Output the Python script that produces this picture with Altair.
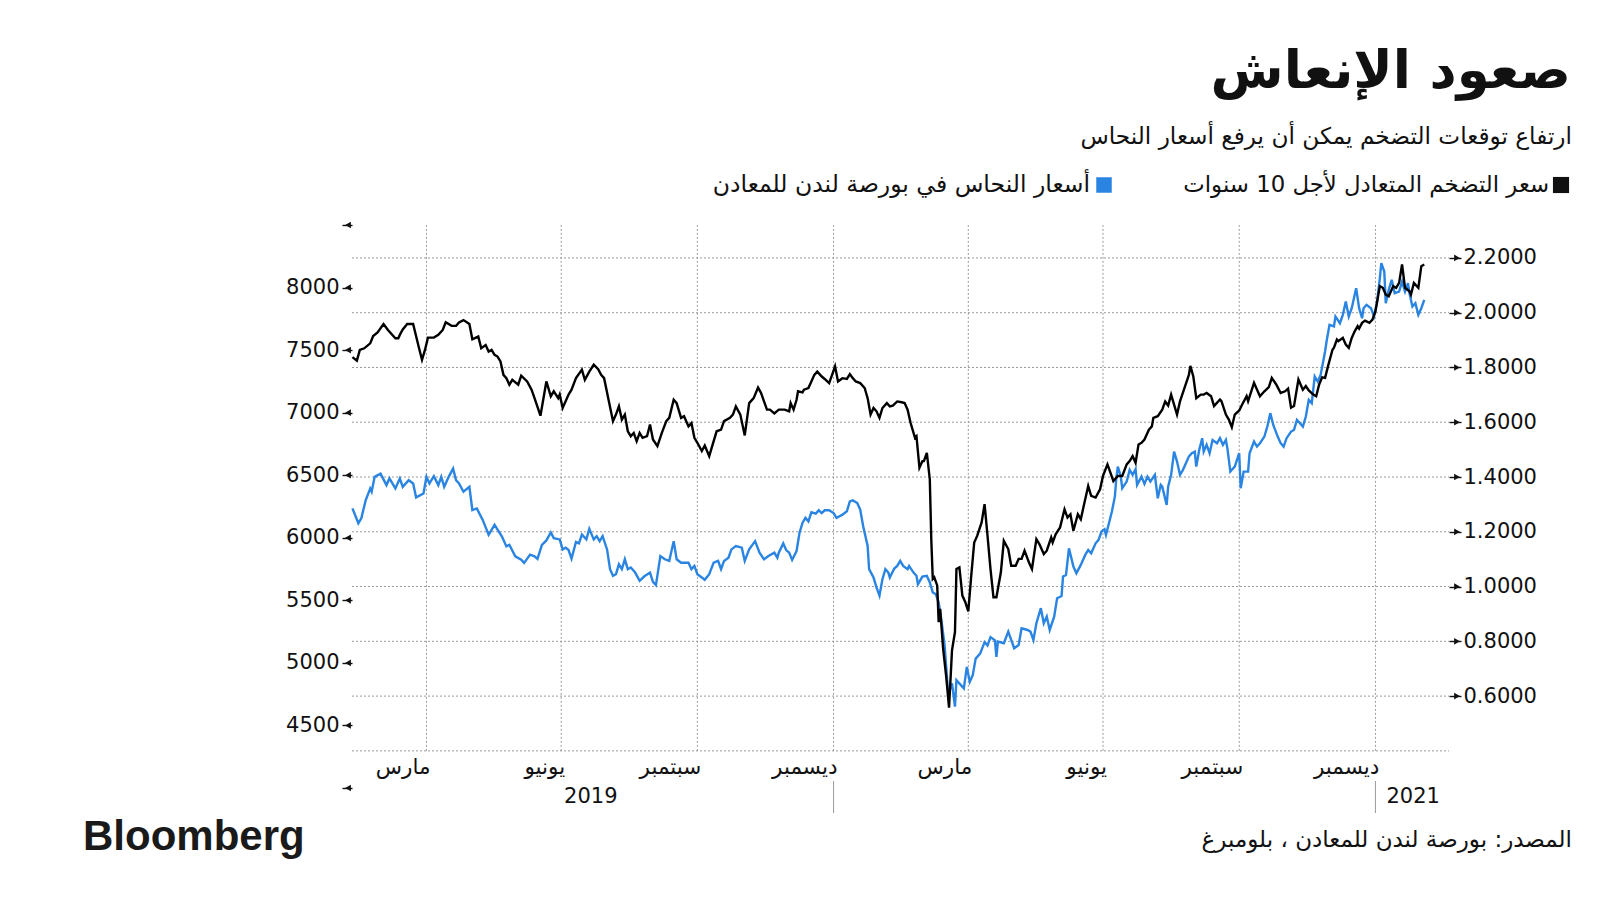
import altair as alt
import pandas as pd

# ---------------- data (days counted from 2019-04-01) ----------------
BASE = "2019-04-01"

breakeven_pts = [
    (-50, 1.838), (-47, 1.825), (-45, 1.864), (-42, 1.870), (-38, 1.888), (-36, 1.915), (-33, 1.928),
    (-29, 1.959), (-26, 1.937), (-21, 1.907), (-19, 1.907), (-18, 1.919), (-16, 1.939), (-13, 1.959),
    (-9, 1.959), (-8, 1.937), (-5, 1.870), (-3, 1.828), (-1, 1.864), (1, 1.909), (5, 1.909), (8, 1.919),
    (11, 1.937), (13, 1.965), (17, 1.952), (20, 1.952), (22, 1.964), (25, 1.973), (29, 1.959), (31, 1.903),
    (35, 1.913), (37, 1.870), (40, 1.882), (42, 1.858), (44, 1.864), (46, 1.846), (48, 1.840), (50, 1.822),
    (52, 1.773), (54, 1.761), (56, 1.737), (58, 1.755), (62, 1.737), (64, 1.770), (68, 1.749), (71, 1.719),
    (73, 1.688), (77, 1.624), (81, 1.749), (84, 1.695), (86, 1.713), (89, 1.688),
    (90, 1.701), (92, 1.652), (96, 1.701), (98, 1.719), (101, 1.761), (105, 1.792), (107, 1.755),
    (110, 1.785), (113, 1.810), (116, 1.794), (118, 1.773), (120, 1.761), (123, 1.682), (126, 1.604),
    (128, 1.628), (130, 1.658), (132, 1.610), (134, 1.628), (136, 1.567), (138, 1.549), (140, 1.561),
    (142, 1.531), (144, 1.561), (146, 1.543), (149, 1.549), (151, 1.592), (153, 1.537), (156, 1.513),
    (159, 1.561), (162, 1.604), (164, 1.616), (167, 1.682), (169, 1.670), (172, 1.616), (174, 1.622),
    (177, 1.585), (179, 1.597), (181, 1.543), (183, 1.525), (186, 1.495), (188, 1.515), (191, 1.476),
    (193, 1.513), (196, 1.567), (199, 1.573), (201, 1.604), (205, 1.616), (207, 1.628), (209, 1.658),
    (212, 1.628), (215, 1.552), (218, 1.670), (221, 1.688), (224, 1.727), (226, 1.707), (230, 1.646),
    (232, 1.646),
    (235, 1.632), (238, 1.646), (242, 1.646), (245, 1.640), (246, 1.670), (248, 1.646), (250, 1.682),
    (251, 1.713), (254, 1.709), (255, 1.719), (258, 1.725), (260, 1.749), (262, 1.773), (264, 1.785),
    (267, 1.767), (269, 1.758), (272, 1.743), (274, 1.773), (276, 1.804), (278, 1.749), (281, 1.761),
    (284, 1.758), (286, 1.776), (288, 1.761), (290, 1.749), (293, 1.743), (296, 1.725), (298, 1.688),
    (300, 1.628), (302, 1.652), (304, 1.640), (306, 1.616), (308, 1.652), (311, 1.670), (313, 1.658),
    (315, 1.661), (318, 1.676), (321, 1.673), (323, 1.670), (325, 1.646), (327, 1.598), (330, 1.543),
    (331, 1.549), (333, 1.434), (335, 1.458), (336, 1.458), (338, 1.488), (340, 1.392), (341, 1.173),
    (342, 1.028), (343, 1.034), (345, 1.004), (346, 0.870), (347, 0.919), (349, 0.773), (351, 0.676),
    (353, 0.558), (355, 0.767), (357, 0.834), (358, 1.064), (360, 1.070), (362, 0.967), (364, 0.943),
    (366, 0.909), (368, 1.040), (370, 1.161), (372, 1.185), (375, 1.234), (377, 1.301), (379, 1.185),
    (381, 1.064), (383, 0.961), (385, 0.961),
    (388, 1.052), (390, 1.167), (393, 1.137), (395, 1.076), (398, 1.076), (400, 1.101), (402, 1.101),
    (404, 1.131), (407, 1.088), (409, 1.064), (412, 1.173), (414, 1.155), (417, 1.119), (419, 1.131),
    (422, 1.179), (423, 1.161), (425, 1.191), (428, 1.216), (431, 1.282), (433, 1.252), (435, 1.264),
    (437, 1.204), (440, 1.264), (442, 1.246), (444, 1.295), (447, 1.367), (449, 1.331), (452, 1.325),
    (455, 1.355), (457, 1.404), (460, 1.446), (462, 1.416), (464, 1.385), (467, 1.404), (470, 1.404),
    (473, 1.446), (475, 1.458), (477, 1.476), (479, 1.452), (481, 1.519), (483, 1.525), (485, 1.537),
    (488, 1.573), (490, 1.585), (491, 1.616), (494, 1.622), (497, 1.646), (499, 1.676), (501, 1.661),
    (503, 1.701), (507, 1.628), (509, 1.676), (512, 1.725), (515, 1.773), (516, 1.806), (518, 1.767),
    (520, 1.688), (523, 1.701), (525, 1.701),
    (527, 1.707), (530, 1.695), (532, 1.659), (536, 1.683), (537, 1.677), (540, 1.628), (542, 1.610),
    (544, 1.582), (546, 1.628), (549, 1.643), (551, 1.665), (554, 1.695), (555, 1.677), (559, 1.744),
    (563, 1.695), (566, 1.713), (569, 1.728), (571, 1.762), (574, 1.738), (577, 1.707), (580, 1.713),
    (582, 1.723), (584, 1.653), (586, 1.659), (589, 1.756), (592, 1.719), (594, 1.732), (596, 1.716),
    (599, 1.701), (601, 1.695), (603, 1.738), (605, 1.764), (607, 1.762), (609, 1.805), (612, 1.865),
    (613, 1.872), (615, 1.902), (616, 1.896), (619, 1.908), (621, 1.884), (623, 1.872), (625, 1.908),
    (627, 1.932), (629, 1.951), (630, 1.942), (632, 1.963), (634, 1.971), (637, 1.963), (639, 1.975),
    (641, 2.005), (643, 2.066), (644, 2.097), (646, 2.091), (648, 2.066), (650, 2.060), (653, 2.097),
    (655, 2.091), (657, 2.109), (659, 2.176), (661, 2.091), (664, 2.078), (665, 2.066), (667, 2.109),
    (670, 2.091), (672, 2.170), (674, 2.176),
]

copper_pts = [
    (-50, 6235), (-46, 6116), (-44, 6156), (-41, 6302), (-38, 6394), (-37, 6368), (-35, 6487), (-31, 6513),
    (-27, 6421), (-25, 6474), (-21, 6394), (-18, 6474), (-16, 6407), (-12, 6460), (-9, 6434), (-7, 6323),
    (-2, 6354), (0, 6487), (2, 6434), (5, 6492), (8, 6421), (10, 6487), (12, 6407), (15, 6487), (18, 6553),
    (20, 6460), (22, 6434), (25, 6368), (29, 6407), (31, 6222), (34, 6235), (38, 6143), (42, 6024),
    (46, 6103), (51, 6010), (54, 5931), (56, 5944), (60, 5852), (64, 5825), (66, 5799), (70, 5865),
    (73, 5852), (75, 5831), (78, 5944), (81, 5979), (84, 6042), (86, 5997), (89, 5989),
    (90, 5987), (92, 5907), (94, 5921), (96, 5902), (98, 5833), (101, 5966), (103, 5955), (105, 6026),
    (108, 5987), (110, 6071), (113, 5987), (115, 6013), (117, 5973), (119, 6013), (122, 5907), (124, 5749),
    (126, 5696), (128, 5709), (130, 5788), (132, 5749), (134, 5828), (136, 5749), (138, 5762), (141, 5722),
    (144, 5656), (147, 5690), (151, 5722), (153, 5648), (155, 5622), (158, 5854), (161, 5828), (164, 5815),
    (167, 5973), (169, 5828), (172, 5801), (177, 5801), (179, 5749), (181, 5775), (183, 5709), (186, 5682),
    (188, 5664), (191, 5709), (194, 5801), (197, 5815), (199, 5749), (201, 5815), (204, 5841), (206, 5907),
    (209, 5934), (213, 5921), (215, 5815), (218, 5907), (222, 5973), (225, 5881), (228, 5828), (231, 5854),
    (235, 5881), (237, 5841), (238, 5881), (241, 5955), (243, 5902), (245, 5881), (247, 5823), (250, 5894),
    (252, 6040), (254, 6119), (256, 6159), (258, 6132), (260, 6204), (263, 6193), (265, 6220), (267, 6198),
    (269, 6220), (272, 6220), (275, 6198), (277, 6159), (279, 6172), (281, 6185), (284, 6212), (286, 6291),
    (288, 6299), (291, 6278), (293, 6225), (295, 6093), (298, 5934), (299, 5749), (302, 5682), (304, 5603),
    (306, 5537), (308, 5669), (310, 5749), (312, 5722), (313, 5682), (316, 5754), (318, 5775), (320, 5815),
    (322, 5775), (325, 5749), (326, 5775), (329, 5722), (331, 5696), (332, 5629), (335, 5690), (338, 5696),
    (340, 5643), (342, 5563), (344, 5550), (346, 5484), (348, 5325), (350, 5140), (352, 4822), (353, 4769),
    (355, 4836), (357, 4650), (358, 4862), (361, 4822), (363, 4796), (365, 4968), (367, 4849), (369, 4902),
    (371, 5034), (374, 5074), (377, 5166), (379, 5140), (381, 5206), (384, 5180), (385, 5047),
    (386, 5170), (390, 5157), (393, 5250), (397, 5117), (400, 5143), (402, 5277), (406, 5263), (408, 5250),
    (410, 5183), (412, 5317), (415, 5437), (417, 5317), (419, 5370), (421, 5263), (424, 5370), (426, 5517),
    (429, 5535), (430, 5690), (432, 5703), (434, 5916), (437, 5770), (439, 5716), (442, 5783), (445, 5863),
    (447, 5903), (449, 5876), (452, 5956), (454, 5983), (456, 6050), (458, 6068), (459, 6023), (461, 6116),
    (463, 6210), (465, 6329), (466, 6476), (467, 6569), (469, 6489), (470, 6396), (473, 6449), (475, 6543),
    (477, 6503), (479, 6548), (480, 6423), (483, 6489), (485, 6431), (487, 6489), (489, 6449), (492, 6503),
    (494, 6316), (496, 6423), (497, 6409), (500, 6263), (501, 6409), (503, 6503), (505, 6689), (507, 6609),
    (509, 6503), (511, 6543), (515, 6649), (517, 6676), (519, 6689), (520, 6569), (522, 6703), (524, 6796),
    (525, 6689),
    (527, 6743), (529, 6676), (531, 6782), (534, 6756), (536, 6796), (538, 6743), (540, 6782), (541, 6716),
    (543, 6529), (546, 6569), (549, 6676), (550, 6396), (552, 6529), (555, 6529), (556, 6676), (559, 6769),
    (561, 6729), (563, 6756), (566, 6809), (568, 6889), (570, 6996), (572, 6902), (575, 6809), (577, 6756),
    (579, 6729), (581, 6796), (584, 6849), (586, 6862), (588, 6942), (589, 6929), (592, 6889), (594, 6969),
    (596, 7102), (598, 7076), (600, 7289), (602, 7249), (604, 7302), (607, 7489), (608, 7569), (610, 7702),
    (613, 7689), (614, 7769), (617, 7715), (619, 7782), (621, 7888), (623, 7769), (625, 7835), (628, 7995),
    (630, 7835), (632, 7755), (633, 7835), (635, 7862), (638, 7835), (640, 7769), (642, 7875), (644, 8075),
    (645, 8195), (647, 8128), (648, 7875), (650, 7982), (652, 8062), (654, 7955), (657, 7968), (659, 8048),
    (661, 7968), (663, 8035), (664, 7955), (666, 7849), (668, 7875), (670, 7782), (672, 7835), (674, 7902),
]

left_ticks = [4000, 4500, 5000, 5500, 6000, 6500, 7000, 7500, 8000, 8500]
right_ticks = [0.6, 0.8, 1.0, 1.2, 1.4, 1.6, 1.8, 2.0, 2.2]
grid_levels = [0.4, 0.6, 0.8, 1.0, 1.2, 1.4, 1.6, 1.8, 2.0, 2.2]
quarter_lines = ["2019-04-01", "2019-07-01", "2019-10-01", "2020-01-01",
                 "2020-04-01", "2020-07-01", "2020-10-01", "2021-01-01"]
month_names = ["مارس", "يونيو", "سبتمبر", "ديسمبر", "مارس", "يونيو", "سبتمبر", "ديسمبر"]
year_dividers = ["2020-01-01", "2021-01-01"]

TITLE = "صعود الإنعاش"
SUBTITLE = "ارتفاع توقعات التضخم يمكن أن يرفع أسعار النحاس"
LEG_BLACK = "سعر التضخم المتعادل لأجل 10 سنوات"
LEG_BLUE = "أسعار النحاس في بورصة لندن للمعادن"
SOURCE = "المصدر: بورصة لندن للمعادن ، بلومبرغ"

# ---------------- layout ----------------
W, H = 1097, 563
PAD_L, PAD_T = 352, 225
AR = "DejaVu Sans"
BLUE = "#2a84e2"
GRID = "#9a9a9a"
INK = "#111111"

base = pd.Timestamp(BASE)
bk = pd.DataFrame({"date": [base + pd.Timedelta(days=d) for d, _ in breakeven_pts],
                   "v": [v for _, v in breakeven_pts]})
cu = pd.DataFrame({"date": [base + pd.Timedelta(days=d) for d, _ in copper_pts],
                   "v": [v for _, v in copper_pts]})
qdf = pd.DataFrame({"date": pd.to_datetime(quarter_lines), "m": month_names})
ydf = pd.DataFrame({"date": pd.to_datetime(year_dividers)})

xscale = alt.Scale(domain=[alt.DateTime(year=2019, month=2, date=9, hours=17),
                           alt.DateTime(year=2021, month=2, date=19, hours=17)])
rscale = alt.Scale(domain=[0.2644, 2.3203], nice=False, zero=False)
lscale = alt.Scale(domain=[4000, 8500], nice=False, zero=False)

hgrid = alt.Chart(pd.DataFrame({"v": grid_levels})).mark_rule(
    color=GRID, strokeDash=[2, 2], strokeWidth=1).encode(
    y=alt.Y("v:Q", scale=rscale, axis=None), x=alt.value(0), x2=alt.value(W))

vgrid = alt.Chart(qdf).mark_rule(color=GRID, strokeDash=[2, 2], strokeWidth=1).encode(
    x=alt.X("date:T", scale=xscale, axis=None),
    y=alt.YDatum(0.4, scale=rscale, axis=None), y2=alt.value(0))

blue_line = alt.Chart(cu).mark_line(color=BLUE, strokeWidth=2.4).encode(
    x=alt.X("date:T", scale=xscale, axis=None),
    y=alt.Y("v:Q", scale=lscale, title=None,
            axis=alt.Axis(orient="left", values=left_ticks, format="d", labelFontSize=21,
                          labelExpr="datum.value == 4000 || datum.value == 8500 ? '' : datum.label",
                          labelFont=AR, labelColor=INK, ticks=True, tickSize=10, tickWidth=1.4,
                          tickColor=INK, domain=False, grid=False, labelPadding=3)))

black_line = alt.Chart(bk).mark_line(color="#000", strokeWidth=2.4).encode(
    x=alt.X("date:T", scale=xscale, axis=None),
    y=alt.Y("v:Q", scale=rscale, title=None,
            axis=alt.Axis(orient="right", values=right_ticks, format=".4f", labelFontSize=21,
                          labelFont=AR, labelColor=INK, ticks=True, tickSize=12, tickWidth=1.4,
                          tickColor=INK, domain=False, grid=False, labelPadding=2)))

ltri = alt.Chart(pd.DataFrame({"v": left_ticks})).mark_point(
    shape="triangle-left", filled=True, size=45, color=INK, opacity=1).encode(
    y=alt.Y("v:Q", scale=lscale, axis=None), x=alt.value(-4))

rtri = alt.Chart(pd.DataFrame({"v": right_ticks})).mark_point(
    shape="triangle-right", filled=True, size=45, color=INK, opacity=1).encode(
    y=alt.Y("v:Q", scale=rscale, axis=None), x=alt.value(W + 8))

months = alt.Chart(qdf).mark_text(align="right", baseline="middle", dx=4, fontSize=21.5,
                                  font=AR, color=INK).encode(
    x=alt.X("date:T", scale=xscale, axis=None), y=alt.value(543), text="m:N")

dividers = alt.Chart(ydf).mark_rule(color="#9a9a9a", strokeWidth=1).encode(
    x=alt.X("date:T", scale=xscale, axis=None), y=alt.value(556), y2=alt.value(588))

y2019 = alt.Chart(pd.DataFrame({"date": [pd.Timestamp("2019-07-21")], "t": ["2019"]})).mark_text(
    align="center", baseline="middle", fontSize=21, font=AR, color=INK).encode(
    x=alt.X("date:T", scale=xscale, axis=None), y=alt.value(572), text="t:N")

y2021 = alt.Chart(pd.DataFrame({"date": [pd.Timestamp("2021-01-01")], "t": ["2021"]})).mark_text(
    align="left", baseline="middle", dx=11, fontSize=21, font=AR, color=INK).encode(
    x=alt.X("date:T", scale=xscale, axis=None), y=alt.value(572), text="t:N")


def label(txt, x, y, size, align="right", weight="normal", font=AR, color=INK, baseline="alphabetic"):
    return alt.Chart(pd.DataFrame({"t": [txt]})).mark_text(
        align=align, baseline=baseline, fontSize=size, fontWeight=weight, font=font, color=color
    ).encode(x=alt.value(x), y=alt.value(y), text="t:N")


title = label(TITLE, 1571 - PAD_L, 88 - PAD_T, 53, weight="bold")
subtitle = label(SUBTITLE, 1572 - PAD_L, 144 - PAD_T, 23.2)
leg_black_sq = alt.Chart(pd.DataFrame({"a": [1]})).mark_square(
    color=INK, size=260, opacity=1).encode(x=alt.value(1561 - PAD_L), y=alt.value(185 - PAD_T))
leg_blue_sq = alt.Chart(pd.DataFrame({"a": [1]})).mark_square(
    color=BLUE, size=240, opacity=1).encode(x=alt.value(1104 - PAD_L), y=alt.value(185 - PAD_T))
leg_black = label(LEG_BLACK, 1549 - PAD_L, 185 - PAD_T, 22.8, baseline="middle")
leg_blue = label(LEG_BLUE, 1090 - PAD_L, 185 - PAD_T, 23.5, baseline="middle")
logo = label("Bloomberg", 83 - PAD_L, 850 - PAD_T, 42, align="left", weight="bold",
             font="Liberation Sans", color="#1a1a1a")
source = label(SOURCE, 1572 - PAD_L, 847 - PAD_T, 23)

chart = alt.layer(
    hgrid, vgrid, blue_line, black_line, ltri, rtri, months, dividers, y2019, y2021,
    title, subtitle, leg_black_sq, leg_blue_sq, leg_black, leg_blue, logo, source,
).resolve_scale(y="independent").properties(
    width=W, height=H,
    padding={"left": PAD_L, "top": PAD_T, "right": 1600 - PAD_L - W, "bottom": 900 - PAD_T - H},
    autosize=alt.AutoSizeParams(type="none"),
    background="white",
).configure_view(stroke=None)

chart.save("out.html", embed_options={"renderer": "svg", "actions": False})
